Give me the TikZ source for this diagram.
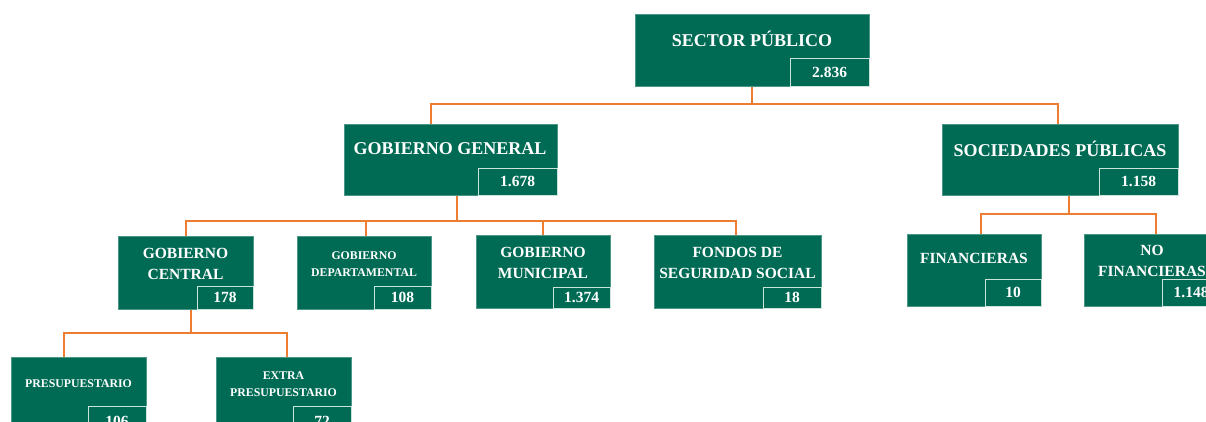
\documentclass[tikz,border=0pt]{standalone}
\usepackage{fontspec}
\setmainfont{Liberation Serif}
\definecolor{boxgreen}{RGB}{0,107,84}
\definecolor{conncol}{RGB}{237,125,49}
\definecolor{valline}{RGB}{205,228,218}
\tikzset{
  box/.style={fill=boxgreen, draw=boxgreen!70!white, line width=0.6pt, anchor=north west, inner sep=0pt},
  val/.style={fill=boxgreen, draw=valline, line width=1pt, anchor=south east, inner sep=0pt, text=white, font=\bfseries\fontsize{15.5}{16}\selectfont},
  lbl/.style={text=white, align=center, inner sep=0pt, font=\bfseries\fontsize{18}{20}\selectfont},
  lblm/.style={text=white, align=center, inner sep=0pt, font=\bfseries\fontsize{15.5}{20.5}\selectfont},
  lbls/.style={text=white, align=center, inner sep=0pt, font=\bfseries\fontsize{11.8}{16.5}\selectfont},
  link/.style={draw=conncol, line width=1.9pt},
}
\begin{document}
\begin{tikzpicture}[x=1pt, y=-1pt]
\useasboundingbox (0,0) rectangle (1206,421);
\fill[white] (0,0) rectangle (1206,421);
\clip (0,0) rectangle (1206,421);

% level 0
\node[box, minimum width=234pt, minimum height=72pt] (sp) at (635,14) {};
\node[val, minimum width=79pt, minimum height=28pt] (spv) at (sp.south east) {2.836};
\node[lbl] (spt) at (752,39) {SECTOR PÚBLICO};

% level 1
\node[box, minimum width=213pt, minimum height=71pt] (gg) at (344,124) {};
\node[val, minimum width=79pt, minimum height=27pt] (ggv) at (gg.south east) {1.678};
\node[lbl] (ggt) at (450,149) {GOBIERNO GENERAL};

\node[box, minimum width=236pt, minimum height=71pt] (soc) at (942,124) {};
\node[val, minimum width=79pt, minimum height=27pt] (socv) at (soc.south east) {1.158};
\node[lbl] (soct) at (1060,149) {SOCIEDADES PÚBLICAS};

% level 2
\node[box, minimum width=135pt, minimum height=73pt] (gc) at (118,236) {};
\node[val, minimum width=56pt, minimum height=23pt] (gcv) at (gc.south east) {178};
\node[lblm] (gct) at (185.5,264) {GOBIERNO\\CENTRAL};

\node[box, minimum width=134pt, minimum height=73pt] (gd) at (297,236) {};
\node[val, minimum width=57pt, minimum height=23pt] (gdv) at (gd.south east) {108};
\node[lbls] (gdt) at (364,264) {GOBIERNO\\DEPARTAMENTAL};

\node[box, minimum width=134pt, minimum height=73pt] (gm) at (476,235) {};
\node[val, minimum width=57pt, minimum height=21pt] (gmv) at (gm.south east) {1.374};
\node[lblm] (gmt) at (543,263) {GOBIERNO\\MUNICIPAL};

\node[box, minimum width=167pt, minimum height=73pt] (fss) at (654,235) {};
\node[val, minimum width=58pt, minimum height=21pt] (fssv) at (fss.south east) {18};
\node[lblm] (fsst) at (737.5,263) {FONDOS DE\\SEGURIDAD SOCIAL};

\node[box, minimum width=134pt, minimum height=72pt] (fin) at (907,234) {};
\node[val, minimum width=56pt, minimum height=27pt] (finv) at (fin.south east) {10};
\node[lblm] (fint) at (974,258) {FINANCIERAS};

\node[box, minimum width=136pt, minimum height=72pt] (nof) at (1084,234) {};
\node[val, minimum width=58pt, minimum height=27pt] (nofv) at (nof.south east) {1.148};
\node[lblm] (noft) at (1152,261) {NO\\FINANCIERAS};

% level 3
\node[box, minimum width=135pt, minimum height=80pt] (pre) at (11,357) {};
\node[val, minimum width=58pt, minimum height=31pt] (prev) at (pre.south east) {106};
\node[lbls] (pret) at (78.5,384) {PRESUPUESTARIO};

\node[box, minimum width=135pt, minimum height=80pt] (ext) at (216,357) {};
\node[val, minimum width=58pt, minimum height=31pt] (extv) at (ext.south east) {72};
\node[lbls] (extt) at (283.5,384) {EXTRA\\PRESUPUESTARIO};

% connectors
\draw[link] (sp.south) -- ++(0,17) coordinate (j1);
\draw[link] ([xshift=-20pt]gg.north) |- (j1) -| ([xshift=-2pt]soc.north);

\draw[link] ([xshift=6pt]gg.south) -- ++(0,25) coordinate (j2);
\draw[link] (gc.north) |- (j2) -| ([xshift=-2pt]fss.north);
\draw[link] ([xshift=2pt]gd.north) -- ([xshift=2pt]gd.north |- j2);
\draw[link] (gm.north) -- (gm.north |- j2);

\draw[link] ([xshift=5pt]gc.south) -- ++(0,23) coordinate (j3);
\draw[link] ([xshift=-15pt]pre.north) |- (j3) -| ([xshift=3.5pt]ext.north);

\draw[link] ([xshift=9pt]soc.south) -- ++(0,18) coordinate (j4);
\draw[link] ([xshift=7pt]fin.north) |- (j4) -| ([xshift=4pt]nof.north);
\end{tikzpicture}
\end{document}
